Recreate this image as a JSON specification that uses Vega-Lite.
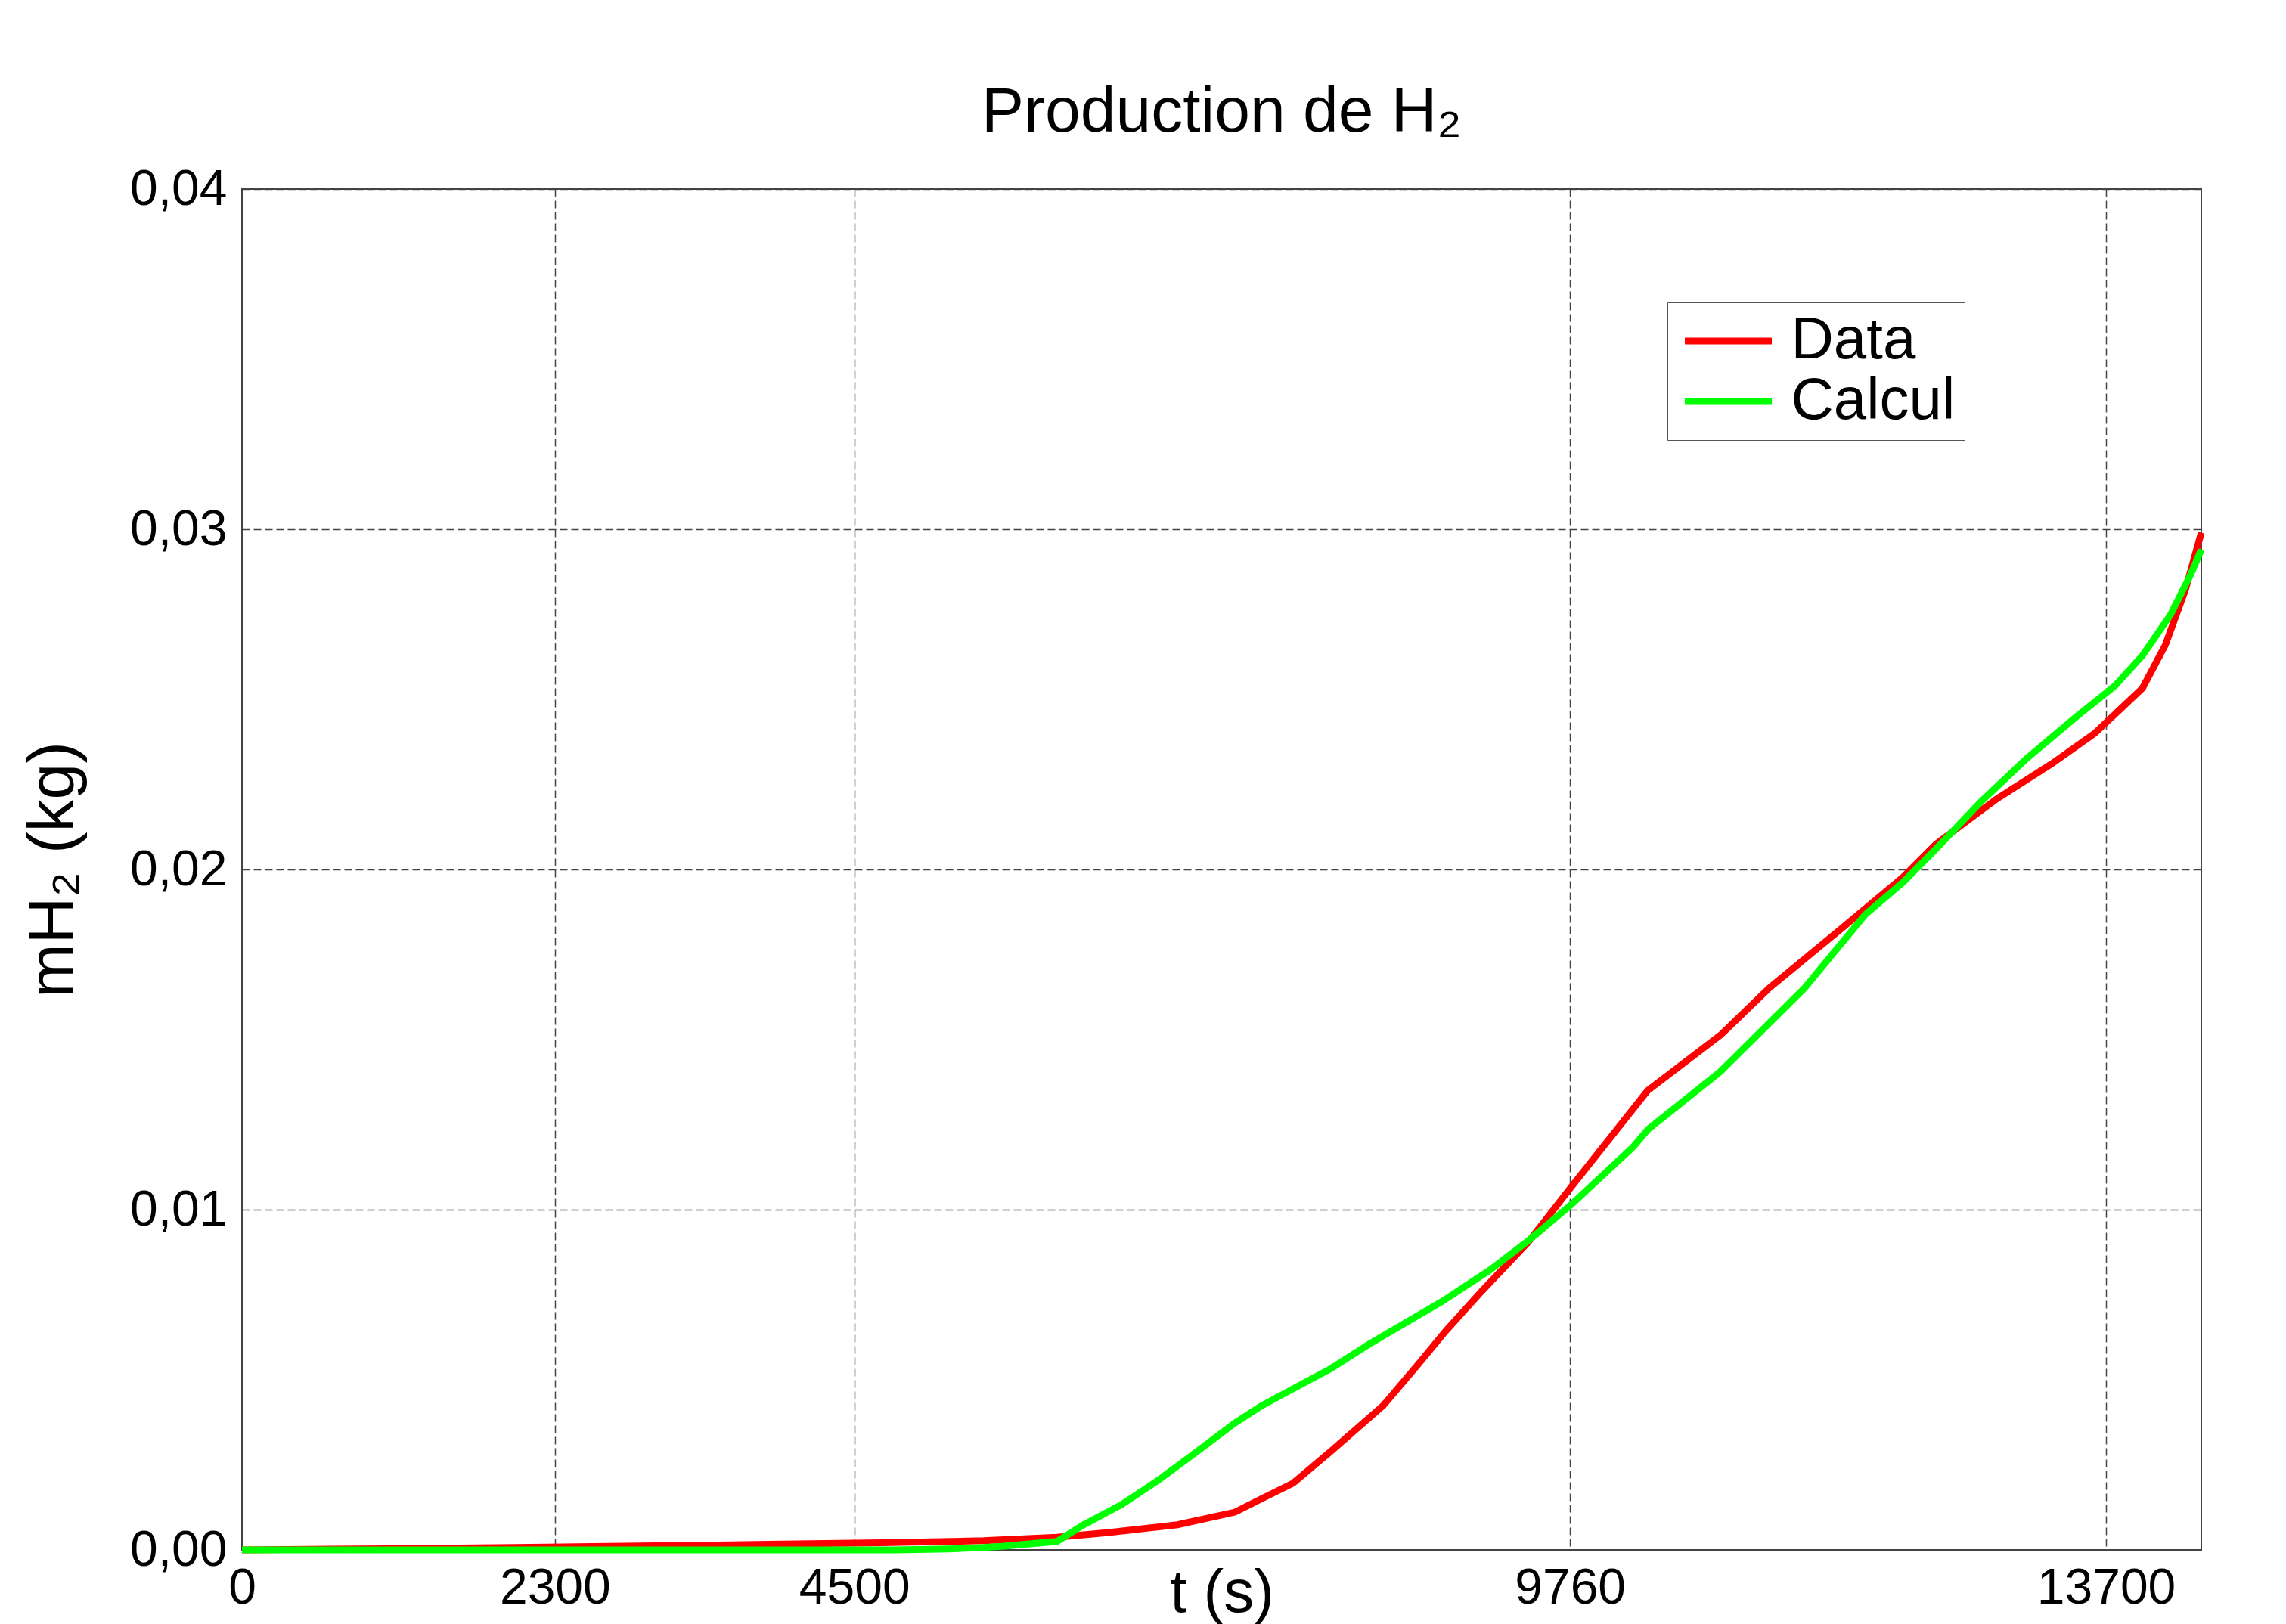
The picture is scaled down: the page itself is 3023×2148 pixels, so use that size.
{
  "$schema": "https://vega.github.io/schema/vega-lite/v6.json",
  "width": 2591,
  "height": 1800,
  "autosize": {"type": "none"},
  "padding": {"left": 320, "top": 250, "right": 112, "bottom": 98},
  "background": "white",
  "title": {
    "text": "Production de H₂",
    "fontSize": 84,
    "font": "Liberation Sans",
    "fontWeight": "normal",
    "color": "black",
    "anchor": "middle",
    "frame": "group",
    "baseline": "alphabetic",
    "offset": 44,
    "dy": 85
  },
  "data": {
    "values": [
      {"serie": "Data", "t": 0, "m": 0},
      {"serie": "Data", "t": 660, "m": 0.00002},
      {"serie": "Data", "t": 2000, "m": 0.00007},
      {"serie": "Data", "t": 3400, "m": 0.00014},
      {"serie": "Data", "t": 4700, "m": 0.00021},
      {"serie": "Data", "t": 5450, "m": 0.00027},
      {"serie": "Data", "t": 5990, "m": 0.00037},
      {"serie": "Data", "t": 6370, "m": 0.00051},
      {"serie": "Data", "t": 6875, "m": 0.00074},
      {"serie": "Data", "t": 7298, "m": 0.00111},
      {"serie": "Data", "t": 7486, "m": 0.00149},
      {"serie": "Data", "t": 7725, "m": 0.00196},
      {"serie": "Data", "t": 8003, "m": 0.0029},
      {"serie": "Data", "t": 8387, "m": 0.00424},
      {"serie": "Data", "t": 8637, "m": 0.00542},
      {"serie": "Data", "t": 8848, "m": 0.00644},
      {"serie": "Data", "t": 9115, "m": 0.00762},
      {"serie": "Data", "t": 9454, "m": 0.00905},
      {"serie": "Data", "t": 9770, "m": 0.01067},
      {"serie": "Data", "t": 10331, "m": 0.0135},
      {"serie": "Data", "t": 10866, "m": 0.01513},
      {"serie": "Data", "t": 11226, "m": 0.01652},
      {"serie": "Data", "t": 11743, "m": 0.01822},
      {"serie": "Data", "t": 12209, "m": 0.01978},
      {"serie": "Data", "t": 12449, "m": 0.02074},
      {"serie": "Data", "t": 12894, "m": 0.02207},
      {"serie": "Data", "t": 13302, "m": 0.02311},
      {"serie": "Data", "t": 13616, "m": 0.024},
      {"serie": "Data", "t": 13968, "m": 0.02533},
      {"serie": "Data", "t": 14136, "m": 0.0266},
      {"serie": "Data", "t": 14283, "m": 0.02822},
      {"serie": "Data", "t": 14400, "m": 0.0299},
      {"serie": "Calcul", "t": 0, "m": 0},
      {"serie": "Calcul", "t": 4800, "m": 0},
      {"serie": "Calcul", "t": 5200, "m": 0.00003},
      {"serie": "Calcul", "t": 5450, "m": 0.00007},
      {"serie": "Calcul", "t": 5600, "m": 0.00011},
      {"serie": "Calcul", "t": 5990, "m": 0.00025},
      {"serie": "Calcul", "t": 6186, "m": 0.00074},
      {"serie": "Calcul", "t": 6464, "m": 0.00133},
      {"serie": "Calcul", "t": 6742, "m": 0.00207},
      {"serie": "Calcul", "t": 7019, "m": 0.00289},
      {"serie": "Calcul", "t": 7297, "m": 0.00373},
      {"serie": "Calcul", "t": 7486, "m": 0.00422},
      {"serie": "Calcul", "t": 7764, "m": 0.00482},
      {"serie": "Calcul", "t": 8003, "m": 0.00533},
      {"serie": "Calcul", "t": 8281, "m": 0.00604},
      {"serie": "Calcul", "t": 8387, "m": 0.00629},
      {"serie": "Calcul", "t": 8815, "m": 0.00729},
      {"serie": "Calcul", "t": 9170, "m": 0.00822},
      {"serie": "Calcul", "t": 9454, "m": 0.00909},
      {"serie": "Calcul", "t": 9770, "m": 0.01015},
      {"serie": "Calcul", "t": 10226, "m": 0.01185},
      {"serie": "Calcul", "t": 10331, "m": 0.01235},
      {"serie": "Calcul", "t": 10866, "m": 0.01406},
      {"serie": "Calcul", "t": 11485, "m": 0.01652},
      {"serie": "Calcul", "t": 11929, "m": 0.01867},
      {"serie": "Calcul", "t": 12209, "m": 0.01963},
      {"serie": "Calcul", "t": 12449, "m": 0.0206},
      {"serie": "Calcul", "t": 12783, "m": 0.022},
      {"serie": "Calcul", "t": 13116, "m": 0.02326},
      {"serie": "Calcul", "t": 13488, "m": 0.02451},
      {"serie": "Calcul", "t": 13766, "m": 0.0254},
      {"serie": "Calcul", "t": 13968, "m": 0.02629},
      {"serie": "Calcul", "t": 14174, "m": 0.02749},
      {"serie": "Calcul", "t": 14322, "m": 0.02867},
      {"serie": "Calcul", "t": 14400, "m": 0.0294}
    ]
  },
  "mark": {"type": "line", "strokeWidth": 9},
  "encoding": {
    "x": {
      "field": "t",
      "type": "quantitative",
      "scale": {"domain": [0, 14400], "nice": false, "zero": false},
      "axis": {
        "values": [0, 2300, 4500, 9760, 13700],
        "format": "d",
        "title": "t (s)",
        "titleFontSize": 80,
        "titleBaseline": "alphabetic",
        "titleY": 81,
        "labelPadding": 18,
        "labelFlush": false,
        "labelLimit": 0
      }
    },
    "y": {
      "field": "m",
      "type": "quantitative",
      "scale": {"domain": [0, 0.04], "nice": false},
      "axis": {
        "values": [0, 0.01, 0.02, 0.03, 0.04],
        "labelExpr": "replace(format(datum.value, '.2f'), '.', ',')",
        "title": "mH₂ (kg)",
        "titleFontSize": 86,
        "titleAngle": -90,
        "titleBaseline": "alphabetic",
        "titleAlign": "center",
        "titleX": -224,
        "titleY": 900,
        "labelPadding": 20,
        "labelLimit": 0
      }
    },
    "color": {
      "field": "serie",
      "type": "nominal",
      "scale": {"domain": ["Data", "Calcul"], "range": ["#ff0000", "#00ff00"]},
      "legend": {
        "title": null,
        "orient": "none",
        "legendX": 1885,
        "legendY": 150,
        "fillColor": "white",
        "strokeColor": "#555555",
        "padding": 12,
        "symbolType": "M-2,0H2",
        "symbolSize": 3306,
        "symbolStrokeWidth": 9,
        "symbolOffset": 29.5,
        "labelFontSize": 78,
        "labelLimit": 0,
        "labelOffset": 44,
        "rowPadding": 2
      }
    }
  },
  "config": {
    "font": "Liberation Sans",
    "view": {"stroke": "#444444", "strokeWidth": 2},
    "axis": {
      "labelFont": "Liberation Sans",
      "titleFont": "Liberation Sans",
      "labelFontSize": 66,
      "labelColor": "black",
      "titleColor": "black",
      "titleFontWeight": "normal",
      "ticks": false,
      "tickSize": 0,
      "domain": false,
      "grid": true,
      "gridColor": "#444444",
      "gridDash": [10, 5],
      "gridWidth": 1.5,
      "gridOpacity": 1
    },
    "legend": {"labelFont": "Liberation Sans", "labelColor": "black"}
  }
}
